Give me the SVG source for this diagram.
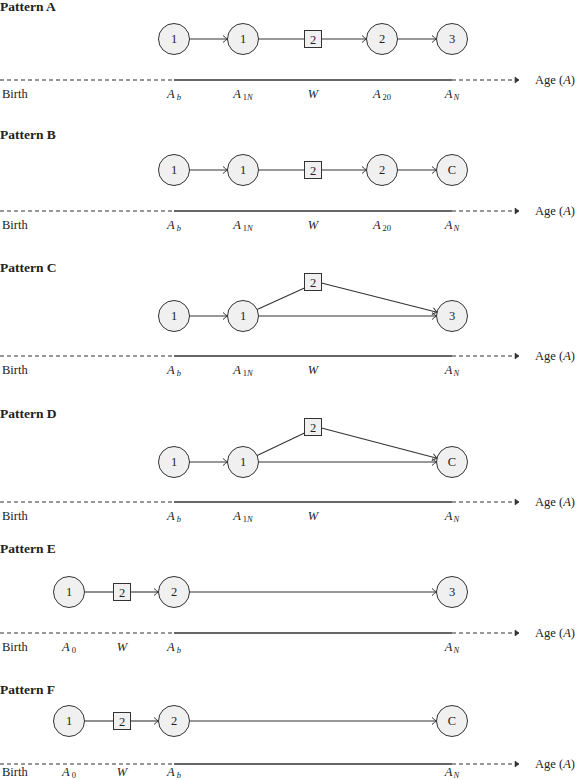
<svg xmlns="http://www.w3.org/2000/svg" width="576" height="780" viewBox="0 0 576 780">
<defs>
<marker id="arr" markerUnits="userSpaceOnUse" markerWidth="12" markerHeight="12" viewBox="-6 -6 12 12" refX="0" refY="0" orient="auto">
<path d="M -4.5 -3.5 Q -1.5 -0.8 0 0 Q -1.5 0.8 -4.5 3.5" fill="none" stroke="#333" stroke-width="1"/>
</marker>
<marker id="ax" markerUnits="userSpaceOnUse" markerWidth="12" markerHeight="12" viewBox="-6 -6 12 12" refX="0" refY="0" orient="auto">
<path d="M -4 -3 L 0 0 L -4 3 Z" fill="#333" stroke="#333" stroke-width="0.6"/>
</marker>
</defs>
<style>
text{font-family:"Liberation Serif","Times New Roman",serif;fill:#222}
.title{font-size:13.5px;font-weight:bold}
.lab{font-size:12.5px;text-anchor:middle}
.ax{font-size:12.5px}
.axl{font-size:12.5px;text-anchor:middle;font-style:italic}
.sub{font-size:8.5px}
.up{font-style:normal}
circle.n{fill:#f0f0f0;stroke:#333;stroke-width:1}
rect.w{fill:#f0f0f0;stroke:#333;stroke-width:1}
.e{stroke:#333;stroke-width:1.1;fill:none}
.ea{stroke:#333;stroke-width:1.1;fill:none;marker-end:url(#arr)}
.dash{stroke:#333;stroke-width:1.1;stroke-dasharray:4 3;fill:none}
.solid{stroke:#333;stroke-width:1.3;fill:none}
</style>

<g id="titles">
<text class="title" x="0" y="11">Pattern A</text>
<text class="title" x="0" y="139">Pattern B</text>
<text class="title" x="0" y="272">Pattern C</text>
<text class="title" x="0" y="418">Pattern D</text>
<text class="title" x="0" y="553">Pattern E</text>
<text class="title" x="0" y="694">Pattern F</text>
</g>

<g id="connectors">
<line class="ea" x1="189.5" y1="39" x2="227.5" y2="39"/>
<line class="e" x1="258.5" y1="39" x2="304.5" y2="39"/>
<line class="ea" x1="321.5" y1="39" x2="366.5" y2="39"/>
<line class="ea" x1="397.5" y1="39" x2="436.5" y2="39"/>
<line class="ea" x1="189.5" y1="170" x2="227.5" y2="170"/>
<line class="e" x1="258.5" y1="170" x2="304.5" y2="170"/>
<line class="ea" x1="321.5" y1="170" x2="366.5" y2="170"/>
<line class="ea" x1="397.5" y1="170" x2="436.5" y2="170"/>
<line class="ea" x1="189.5" y1="316" x2="227.5" y2="316"/>
<line class="e" x1="257.1" y1="309.6" x2="304.5" y2="288"/>
<line class="ea" x1="321.5" y1="283" x2="437" y2="312.3"/>
<line class="ea" x1="258.5" y1="316" x2="436.5" y2="316"/>
<line class="ea" x1="189.5" y1="462" x2="227.5" y2="462"/>
<line class="e" x1="257.1" y1="455.6" x2="304.5" y2="433"/>
<line class="ea" x1="321.5" y1="428" x2="437" y2="458.3"/>
<line class="ea" x1="258.5" y1="462" x2="436.5" y2="462"/>
<line class="e" x1="84.5" y1="592" x2="113.5" y2="592"/>
<line class="ea" x1="130.5" y1="592" x2="158.5" y2="592"/>
<line class="ea" x1="189.5" y1="592" x2="436.5" y2="592"/>
<line class="e" x1="84.5" y1="721" x2="113.5" y2="721"/>
<line class="ea" x1="130.5" y1="721" x2="158.5" y2="721"/>
<line class="ea" x1="189.5" y1="721" x2="436.5" y2="721"/>
</g>

<g id="A1"><circle class="n" cx="174" cy="39" r="15.5"/><text class="lab" x="174" y="43">1</text></g>
<g id="A2"><circle class="n" cx="243" cy="39" r="15.5"/><text class="lab" x="243" y="43">1</text></g>
<g id="AW"><rect class="w" x="304.5" y="30.5" width="17" height="17"/><text class="lab" x="313" y="43.5">2</text></g>
<g id="A3"><circle class="n" cx="382" cy="39" r="15.5"/><text class="lab" x="382" y="43">2</text></g>
<g id="A4"><circle class="n" cx="452" cy="39" r="15.5"/><text class="lab" x="452" y="43">3</text></g>

<g id="B1"><circle class="n" cx="174" cy="170" r="15.5"/><text class="lab" x="174" y="174">1</text></g>
<g id="B2"><circle class="n" cx="243" cy="170" r="15.5"/><text class="lab" x="243" y="174">1</text></g>
<g id="BW"><rect class="w" x="304.5" y="161.5" width="17" height="17"/><text class="lab" x="313" y="174.5">2</text></g>
<g id="B3"><circle class="n" cx="382" cy="170" r="15.5"/><text class="lab" x="382" y="174">2</text></g>
<g id="B4"><circle class="n" cx="452" cy="170" r="15.5"/><text class="lab" x="452" y="174">C</text></g>

<g id="C1"><circle class="n" cx="174" cy="316" r="15.5"/><text class="lab" x="174" y="320">1</text></g>
<g id="C2"><circle class="n" cx="243" cy="316" r="15.5"/><text class="lab" x="243" y="320">1</text></g>
<g id="CW"><rect class="w" x="304.5" y="273.5" width="17" height="17"/><text class="lab" x="313" y="286.5">2</text></g>
<g id="C3"><circle class="n" cx="452" cy="316" r="15.5"/><text class="lab" x="452" y="320">3</text></g>

<g id="D1"><circle class="n" cx="174" cy="462" r="15.5"/><text class="lab" x="174" y="466">1</text></g>
<g id="D2"><circle class="n" cx="243" cy="462" r="15.5"/><text class="lab" x="243" y="466">1</text></g>
<g id="DW"><rect class="w" x="304.5" y="418.5" width="17" height="17"/><text class="lab" x="313" y="431.5">2</text></g>
<g id="D3"><circle class="n" cx="452" cy="462" r="15.5"/><text class="lab" x="452" y="466">C</text></g>

<g id="E1"><circle class="n" cx="69" cy="592" r="15.5"/><text class="lab" x="69" y="596">1</text></g>
<g id="EW"><rect class="w" x="113.5" y="583.5" width="17" height="17"/><text class="lab" x="122" y="596.5">2</text></g>
<g id="E2"><circle class="n" cx="174" cy="592" r="15.5"/><text class="lab" x="174" y="596">2</text></g>
<g id="E3"><circle class="n" cx="452" cy="592" r="15.5"/><text class="lab" x="452" y="596">3</text></g>

<g id="F1"><circle class="n" cx="69" cy="721" r="15.5"/><text class="lab" x="69" y="725">1</text></g>
<g id="FW"><rect class="w" x="113.5" y="712.5" width="17" height="17"/><text class="lab" x="122" y="725.5">2</text></g>
<g id="F2"><circle class="n" cx="174" cy="721" r="15.5"/><text class="lab" x="174" y="725">2</text></g>
<g id="F3"><circle class="n" cx="452" cy="721" r="15.5"/><text class="lab" x="452" y="725">C</text></g>

<g id="axisA">
<line class="dash" x1="0" y1="80" x2="174" y2="80"/>
<line class="solid" x1="174" y1="80" x2="452" y2="80"/>
<line class="dash" x1="452" y1="80" x2="519" y2="80" style="marker-end:url(#ax)"/>
<text class="ax" x="535" y="84">Age (<tspan font-style="italic">A</tspan>)</text>
<text class="ax" x="2" y="98">Birth</text>
<text class="axl" x="174" y="98">A<tspan class="sub" dx="2" dy="2">b</tspan></text>
<text class="axl" x="243" y="98">A<tspan class="sub" dx="2" dy="2"><tspan class="up">1</tspan>N</tspan></text>
<text class="axl" x="313" y="98">W</text>
<text class="axl" x="382" y="98">A<tspan class="sub up" dx="2" dy="2">20</tspan></text>
<text class="axl" x="452" y="98">A<tspan class="sub" dx="1" dy="2">N</tspan></text>
</g>
<g id="axisB">
<line class="dash" x1="0" y1="211" x2="174" y2="211"/>
<line class="solid" x1="174" y1="211" x2="452" y2="211"/>
<line class="dash" x1="452" y1="211" x2="519" y2="211" style="marker-end:url(#ax)"/>
<text class="ax" x="535" y="215">Age (<tspan font-style="italic">A</tspan>)</text>
<text class="ax" x="2" y="229">Birth</text>
<text class="axl" x="174" y="229">A<tspan class="sub" dx="2" dy="2">b</tspan></text>
<text class="axl" x="243" y="229">A<tspan class="sub" dx="2" dy="2"><tspan class="up">1</tspan>N</tspan></text>
<text class="axl" x="313" y="229">W</text>
<text class="axl" x="382" y="229">A<tspan class="sub up" dx="2" dy="2">20</tspan></text>
<text class="axl" x="452" y="229">A<tspan class="sub" dx="1" dy="2">N</tspan></text>
</g>
<g id="axisC">
<line class="dash" x1="0" y1="356" x2="174" y2="356"/>
<line class="solid" x1="174" y1="356" x2="452" y2="356"/>
<line class="dash" x1="452" y1="356" x2="519" y2="356" style="marker-end:url(#ax)"/>
<text class="ax" x="535" y="360">Age (<tspan font-style="italic">A</tspan>)</text>
<text class="ax" x="2" y="374">Birth</text>
<text class="axl" x="174" y="374">A<tspan class="sub" dx="2" dy="2">b</tspan></text>
<text class="axl" x="243" y="374">A<tspan class="sub" dx="2" dy="2"><tspan class="up">1</tspan>N</tspan></text>
<text class="axl" x="313" y="374">W</text>
<text class="axl" x="452" y="374">A<tspan class="sub" dx="1" dy="2">N</tspan></text>
</g>
<g id="axisD">
<line class="dash" x1="0" y1="502" x2="174" y2="502"/>
<line class="solid" x1="174" y1="502" x2="452" y2="502"/>
<line class="dash" x1="452" y1="502" x2="519" y2="502" style="marker-end:url(#ax)"/>
<text class="ax" x="535" y="506">Age (<tspan font-style="italic">A</tspan>)</text>
<text class="ax" x="2" y="520">Birth</text>
<text class="axl" x="174" y="520">A<tspan class="sub" dx="2" dy="2">b</tspan></text>
<text class="axl" x="243" y="520">A<tspan class="sub" dx="2" dy="2"><tspan class="up">1</tspan>N</tspan></text>
<text class="axl" x="313" y="520">W</text>
<text class="axl" x="452" y="520">A<tspan class="sub" dx="1" dy="2">N</tspan></text>
</g>
<g id="axisE">
<line class="dash" x1="0" y1="633" x2="174" y2="633"/>
<line class="solid" x1="174" y1="633" x2="452" y2="633"/>
<line class="dash" x1="452" y1="633" x2="519" y2="633" style="marker-end:url(#ax)"/>
<text class="ax" x="535" y="637">Age (<tspan font-style="italic">A</tspan>)</text>
<text class="ax" x="2" y="651">Birth</text>
<text class="axl" x="69" y="651">A<tspan class="sub up" dx="2" dy="2">0</tspan></text>
<text class="axl" x="122" y="651">W</text>
<text class="axl" x="174" y="651">A<tspan class="sub" dx="2" dy="2">b</tspan></text>
<text class="axl" x="452" y="651">A<tspan class="sub" dx="1" dy="2">N</tspan></text>
</g>
<g id="axisF">
<line class="dash" x1="0" y1="764" x2="174" y2="764"/>
<line class="solid" x1="174" y1="764" x2="452" y2="764"/>
<line class="dash" x1="452" y1="764" x2="519" y2="764" style="marker-end:url(#ax)"/>
<text class="ax" x="535" y="768">Age (<tspan font-style="italic">A</tspan>)</text>
<text class="ax" x="2" y="776">Birth</text>
<text class="axl" x="69" y="776">A<tspan class="sub up" dx="2" dy="1.5">0</tspan></text>
<text class="axl" x="122" y="776">W</text>
<text class="axl" x="174" y="776">A<tspan class="sub" dx="2" dy="1.5">b</tspan></text>
<text class="axl" x="452" y="776">A<tspan class="sub" dx="1" dy="1.5">N</tspan></text>
</g>
</svg>
